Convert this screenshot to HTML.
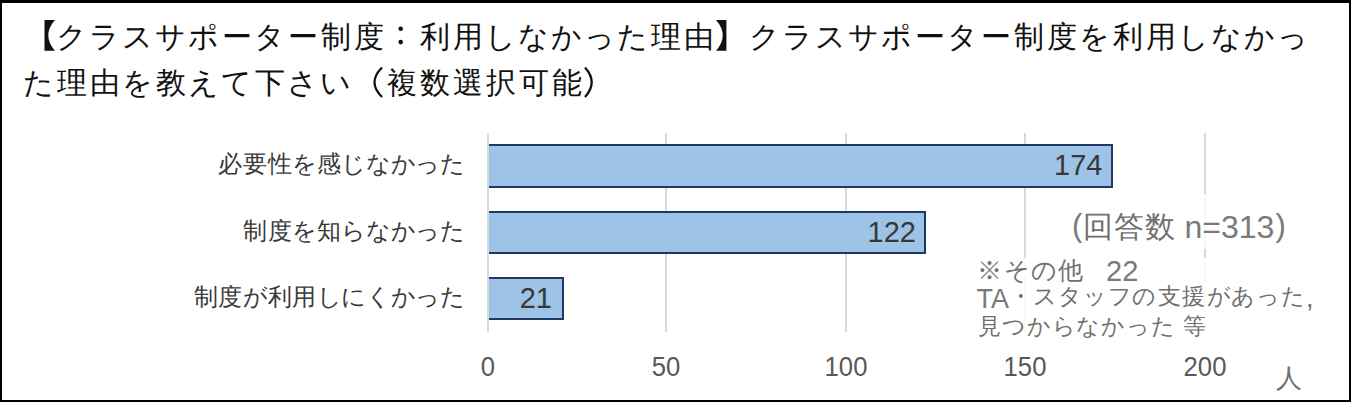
<!DOCTYPE html>
<html lang="ja">
<head>
<meta charset="utf-8">
<style>
*{margin:0;padding:0;box-sizing:border-box;}
html,body{width:1351px;height:402px;overflow:hidden;background:#fff;}
body{position:relative;font-family:"Liberation Sans", sans-serif;}
#frame{position:absolute;left:0;top:0;width:1351px;height:402px;border-style:solid;border-color:#000;border-width:3px 2px 2px 2px;}
.t{position:absolute;white-space:nowrap;line-height:1;}
.t b{display:inline-block;text-align:center;font-weight:normal;}
.title{font-size:30.2px;color:#111;left:22px;}
.grid{position:absolute;top:133px;width:2px;height:198.5px;background:#d9d9d9;}
.wbox{position:absolute;background:rgba(255,255,255,0.8);}
.bar{position:absolute;left:489px;background:#9dc3e6;border:2px solid #1f3864;border-left:none;}
.val{font-size:29px;color:#383838;}
.cat{font-size:23.5px;color:#3a3a3a;right:886.5px;}
.ax{font-size:28.5px;color:#595959;transform:scaleX(0.9);}
.note{color:#707070;}
</style>
</head>
<body>
<div id="frame"></div>
<svg style="position:absolute;left:0;top:0" width="1351" height="60"><path fill="#111" d="M44.5,20 L55,20 Q41.5,35.4 55,50.8 L44.5,50.8 Z"/><path fill="#111" d="M726.4,20 L716,20 Q729.5,35.4 716,50.8 L726.4,50.8 Z"/><circle cx="400.7" cy="28.7" r="2.3" fill="#111"/><circle cx="400.7" cy="42.1" r="2.3" fill="#111"/></svg>
<svg style="position:absolute;left:0;top:60px" width="700" height="50"><path d="M382,7.5 Q367,22.25 382,37" fill="none" stroke="#111" stroke-width="2.3"/><path d="M585,7.5 Q598.4,22.25 585,37" fill="none" stroke="#111" stroke-width="2.3"/></svg>
<div class="t title" style="top:22px;"><b style="width:33px;color:transparent">【</b><b style="width:33px">ク</b><b style="width:33px">ラ</b><b style="width:33px">ス</b><b style="width:33px">サ</b><b style="width:33px">ポ</b><b style="width:33px">ー</b><b style="width:33px">タ</b><b style="width:33px">ー</b><b style="width:33px">制</b><b style="width:33px">度</b><b style="width:33px;color:transparent">：</b><b style="width:33px">利</b><b style="width:33px">用</b><b style="width:33px">し</b><b style="width:33px">な</b><b style="width:33px">か</b><b style="width:33px">っ</b><b style="width:33px">た</b><b style="width:33px">理</b><b style="width:33px">由</b><b style="width:33px;color:transparent">】</b><b style="width:33px">ク</b><b style="width:33px">ラ</b><b style="width:33px">ス</b><b style="width:33px">サ</b><b style="width:33px">ポ</b><b style="width:33px">ー</b><b style="width:33px">タ</b><b style="width:33px">ー</b><b style="width:33px">制</b><b style="width:33px">度</b><b style="width:33px">を</b><b style="width:33px">利</b><b style="width:33px">用</b><b style="width:33px">し</b><b style="width:33px">な</b><b style="width:33px">か</b><b style="width:33px">っ</b></div>
<div class="t title" style="top:68px;"><b style="width:33px">た</b><b style="width:33px">理</b><b style="width:33px">由</b><b style="width:33px">を</b><b style="width:33px">教</b><b style="width:33px">え</b><b style="width:33px">て</b><b style="width:33px">下</b><b style="width:33px">さ</b><b style="width:33px">い</b><b style="width:33px;color:transparent">（</b><b style="width:33px">複</b><b style="width:33px">数</b><b style="width:33px">選</b><b style="width:33px">択</b><b style="width:33px">可</b><b style="width:33px">能</b><b style="width:33px;color:transparent">）</b></div>

<div class="grid" style="left:665px;"></div>
<div class="grid" style="left:845px;"></div>
<div class="grid" style="left:1024px;"></div>
<div class="grid" style="left:1204px;"></div>
<div class="wbox" style="left:1062px;top:194px;width:232px;height:55px;"></div>
<div class="wbox" style="left:970px;top:257.5px;width:345px;height:80px;background:rgba(255,255,255,0.85);"></div>

<div class="bar" style="top:144px;width:623.5px;height:44px;"></div>
<div class="bar" style="top:211px;width:437px;height:43px;"></div>
<div class="bar" style="top:277px;width:75px;height:43px;"></div>
<div class="grid" style="left:487px;"></div>

<div class="t val" style="right:248.5px;top:151px;">174</div>
<div class="t val" style="right:435px;top:218px;">122</div>
<div class="t val" style="right:799px;top:284px;">21</div>

<div class="t cat" style="top:153px;"><b style="width:24.65px">必</b><b style="width:24.65px">要</b><b style="width:24.65px">性</b><b style="width:24.65px">を</b><b style="width:24.65px">感</b><b style="width:24.65px">じ</b><b style="width:24.65px">な</b><b style="width:24.65px">か</b><b style="width:24.65px">っ</b><b style="width:24.65px">た</b></div>
<div class="t cat" style="top:220px;"><b style="width:24.65px">制</b><b style="width:24.65px">度</b><b style="width:24.65px">を</b><b style="width:24.65px">知</b><b style="width:24.65px">ら</b><b style="width:24.65px">な</b><b style="width:24.65px">か</b><b style="width:24.65px">っ</b><b style="width:24.65px">た</b></div>
<div class="t cat" style="top:286px;"><b style="width:24.65px">制</b><b style="width:24.65px">度</b><b style="width:24.65px">が</b><b style="width:24.65px">利</b><b style="width:24.65px">用</b><b style="width:24.65px">し</b><b style="width:24.65px">に</b><b style="width:24.65px">く</b><b style="width:24.65px">か</b><b style="width:24.65px">っ</b><b style="width:24.65px">た</b></div>

<div class="t ax" style="left:437.9px;top:351.5px;width:100px;text-align:center;">0</div>
<div class="t ax" style="left:616.3px;top:351.5px;width:100px;text-align:center;">50</div>
<div class="t ax" style="left:796px;top:351.5px;width:100px;text-align:center;">100</div>
<div class="t ax" style="left:975px;top:351.5px;width:100px;text-align:center;">150</div>
<div class="t ax" style="left:1154.5px;top:351.5px;width:100px;text-align:center;">200</div>
<div class="t note" style="left:1275.5px;top:365px;font-size:26px;">人</div>

<div class="t note" style="left:1072px;top:210px;font-size:31px;color:#7a7a7a;">(</div>
<div class="t note" style="left:1082.2px;top:212px;font-size:29.5px;"><b style="width:31px">回</b><b style="width:31px">答</b><b style="width:31px">数</b></div>
<div class="t note" style="left:1175.5px;top:210.5px;font-size:32px;color:#7a7a7a;">&nbsp;n=313</div>
<div class="t note" style="left:1275.5px;top:209.5px;font-size:31px;color:#7a7a7a;">)</div>

<div class="t note" style="left:976.2px;top:258px;font-size:25px;"><b style="width:27px">※</b><b style="width:27px">そ</b><b style="width:27px">の</b><b style="width:27px">他</b></div>
<div class="t note" style="left:1106px;top:256.5px;font-size:29px;color:#7a7a7a;">22</div>
<div class="t note" style="left:976.5px;top:285.5px;font-size:27px;color:#7a7a7a;">TA</div>
<div class="t note" style="left:1008.3px;top:286px;font-size:22.5px;"><b style="width:24.75px">・</b><b style="width:24.75px">ス</b><b style="width:24.75px">タ</b><b style="width:24.75px">ッ</b><b style="width:24.75px">フ</b><b style="width:24.75px">の</b><b style="width:24.75px">支</b><b style="width:24.75px">援</b><b style="width:24.75px">が</b><b style="width:24.75px">あ</b><b style="width:24.75px">っ</b><b style="width:24.75px">た</b></div>
<div class="t note" style="left:1306px;top:285px;font-size:27px;">,</div>
<div class="t note" style="left:977px;top:315.5px;font-size:22.5px;"><b style="width:24.75px">見</b><b style="width:24.75px">つ</b><b style="width:24.75px">か</b><b style="width:24.75px">ら</b><b style="width:24.75px">な</b><b style="width:24.75px">か</b><b style="width:24.75px">っ</b><b style="width:24.75px">た</b></div>
<div class="t note" style="left:1182.4px;top:315.5px;font-size:22.5px;"><b style="width:24.75px">等</b></div>
</body>
</html>
